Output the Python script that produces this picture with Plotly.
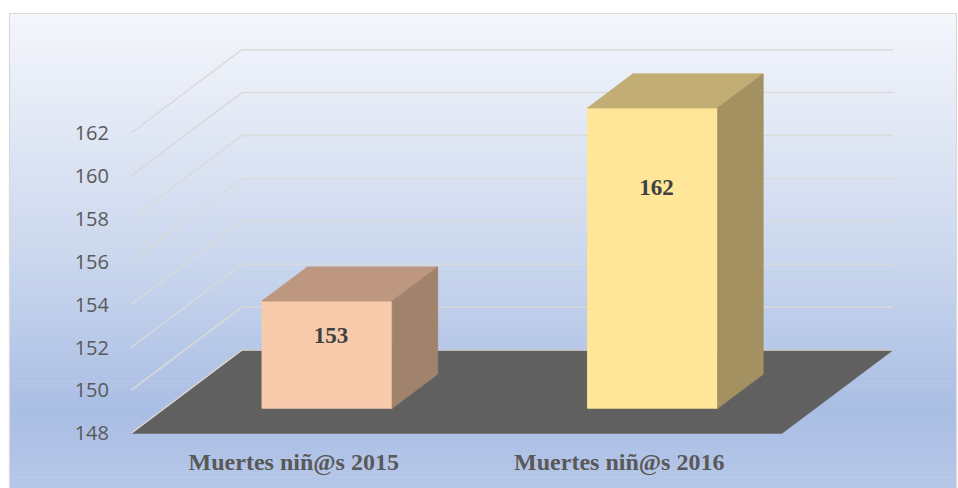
import plotly.graph_objects as go

# ---------------- data ----------------
categories = ["Muertes niñ@s 2015", "Muertes niñ@s 2016"]
values = [153, 162]
y_ticks = [148, 150, 152, 154, 156, 158, 160, 162]
label_heights = [151.3, 158.2]   # where the value labels sit on each bar (value units)

# ---------------- styles ----------------
front_colors = ["#f8cbad", "#ffe699"]
top_colors = ["#bd977f", "#c2ae74"]
side_colors = ["#a1826d", "#a39162"]
floor_color = "#606060"
grid_color = "#d9d9d9"

W, H = 958, 488
PX_X0 = 131.0           # pixel x of the front-left corner of the plot
PX_PER_CAT = 325.5      # pixels per category on the front plane
PX_Y_BASE = 433.3       # pixel y of the floor front edge
PX_PER_UNIT = 21.45     # pixels per value unit
DEPTH_PX = (111.0, 83.3)  # full depth offset in pixels (right, up)
BAR_HALF = 0.2
D0, D1 = 0.30, 0.71     # bar depth span (fraction of full depth)

BASE = y_ticks[0]
n = len(categories)
DX = DEPTH_PX[0] / PX_PER_CAT
DY = DEPTH_PX[1] / PX_PER_UNIT
xr = [-PX_X0 / PX_PER_CAT, (W - PX_X0) / PX_PER_CAT]
yr = [BASE - (H - PX_Y_BASE) / PX_PER_UNIT, BASE + PX_Y_BASE / PX_PER_UNIT]


def P(x, y, d):
    return x + d * DX, y + d * DY


def poly(points, color, line_color=None):
    xs = [p[0] for p in points] + [points[0][0]]
    ys = [p[1] for p in points] + [points[0][1]]
    return go.Scatter(x=xs, y=ys, mode="lines", fill="toself", fillcolor=color,
                      line=dict(color=line_color or color, width=0.8),
                      hoverinfo="skip", showlegend=False)


fig = go.Figure()

# floor
fig.add_trace(poly([P(0, BASE, 0), P(0, BASE, 1), P(n, BASE, 1), P(n, BASE, 0)], floor_color))

# gridlines: side wall diagonal + back wall horizontal
gx, gy = [], []
for t in y_ticks:
    a = P(0, t, 0)
    b = P(0, t, 1)
    c = P(n, t, 1)
    gx += [a[0], b[0], c[0], None]
    gy += [a[1], b[1], c[1], None]
fig.add_trace(go.Scatter(x=gx, y=gy, mode="lines", line=dict(color=grid_color, width=1.5),
                         hoverinfo="skip", showlegend=False))

# bars
for i, v in enumerate(values):
    c = i + 0.5
    xl, xrt = c - BAR_HALF, c + BAR_HALF
    fig.add_trace(poly([P(xl, BASE, D0), P(xrt, BASE, D0), P(xrt, v, D0), P(xl, v, D0)],
                       front_colors[i]))
    fig.add_trace(poly([P(xl, v, D0), P(xrt, v, D0), P(xrt, v, D1), P(xl, v, D1)],
                       top_colors[i]))
    fig.add_trace(poly([P(xrt, BASE, D0), P(xrt, BASE, D1), P(xrt, v, D1), P(xrt, v, D0)],
                       side_colors[i]))

# value labels
lx = [i + 0.5 + D0 * DX + 0.012 for i in range(n)]
ly = [h + D0 * DY for h in label_heights]
fig.add_trace(go.Scatter(x=lx, y=ly, mode="text", text=[str(v) for v in values],
                         textposition="middle center",
                         textfont=dict(family="Liberation Serif", size=23, color="#404040",
                                       weight="bold"),
                         hoverinfo="skip", showlegend=False))

# background gradient (chart area), in figure pixels
stops = [(13.5, (244, 246, 251)), (100, (230, 235, 246)), (250, (204, 216, 238)),
         (410, (170, 189, 228)), (488, (182, 199, 231))]
shapes = []
N = 120
top_px = 13.5
left_px, right_px = 9.5, 956.5
for k in range(N):
    y0p = top_px + (H - top_px) * k / N
    y1p = top_px + (H - top_px) * (k + 1) / N
    ym = (y0p + y1p) / 2
    col = stops[-1][1]
    for j in range(len(stops) - 1):
        if stops[j][0] <= ym <= stops[j + 1][0]:
            f = (ym - stops[j][0]) / (stops[j + 1][0] - stops[j][0])
            col = tuple(round(stops[j][1][q] + f * (stops[j + 1][1][q] - stops[j][1][q])) for q in range(3))
            break
    shapes.append(dict(type="rect", xref="paper", yref="paper", layer="below",
                       x0=left_px / W, x1=right_px / W, y0=1 - (y1p + 0.6) / H, y1=1 - y0p / H,
                       line=dict(width=0), fillcolor="rgb(%d,%d,%d)" % col))
shapes.append(dict(type="rect", xref="paper", yref="paper", layer="below",
                   x0=left_px / W, x1=right_px / W, y0=-0.01, y1=1 - top_px / H,
                   line=dict(color="#d9d9d9", width=1.2), fillcolor="rgba(0,0,0,0)"))

fig.update_layout(
    width=W, height=H,
    margin=dict(l=0, r=0, t=0, b=0),
    paper_bgcolor="white",
    plot_bgcolor="rgba(0,0,0,0)",
    shapes=shapes,
    showlegend=False,
    xaxis=dict(range=xr, anchor="free", position=(H - PX_Y_BASE) / H,
               tickvals=[i + 0.5 for i in range(n)], ticktext=categories,
               tickfont=dict(family="Liberation Serif", size=24, color="#595959", weight="bold"),
               showgrid=False, zeroline=False, showline=False, ticks="",
               ticklabelstandoff=12, automargin=False, fixedrange=True),
    yaxis=dict(range=yr, anchor="free", position=PX_X0 / W,
               tickvals=y_ticks, ticktext=[str(t) for t in y_ticks],
               tickfont=dict(family="Open Sans", size=20, color="#595959"),
               showgrid=False, zeroline=False, showline=False, ticks="",
               ticklabelstandoff=22, automargin=False, fixedrange=True),
)

fig.write_html(
    "out.html",
    config={"displayModeBar": False, "staticPlot": True},
    post_script="document.body.style.margin='0';"
                "document.body.style.overflow='hidden';"
                "document.documentElement.style.overflow='hidden';",
)
